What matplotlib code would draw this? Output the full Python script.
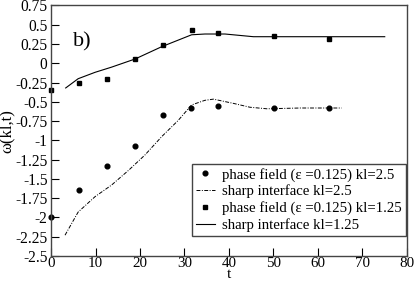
import matplotlib
matplotlib.use("Agg")
import matplotlib.pyplot as plt

# phase field points, kl=2.5 (circles)
t_pf25 = [0.0, 6.3, 12.6, 18.9, 25.1, 31.4, 37.6, 50.1, 62.5]
w_pf25 = [-1.99, -1.64, -1.33, -1.07, -0.67, -0.58, -0.55, -0.58, -0.58]

# phase field points, kl=1.25 (squares)
t_pf125 = [0.0, 6.3, 12.6, 18.9, 25.1, 31.6, 37.6, 50.1, 62.5]
w_pf125 = [-0.35, -0.25, -0.21, 0.056, 0.24, 0.43, 0.39, 0.36, 0.317]

# sharp interface curve, kl=2.5
t_si25 = [3.15, 6.1, 9.9, 13.6, 17.4, 21.1, 24.9, 28.6, 31.6, 34.6, 36.5,
          41.0, 44.7, 48.5, 56.0, 65.3]
w_si25 = [-2.23, -1.93, -1.73, -1.58, -1.39, -1.19, -0.95, -0.74, -0.54,
          -0.48, -0.465, -0.52, -0.57, -0.59, -0.58, -0.58]

# sharp interface curve, kl=1.25
t_si125 = [3.3, 6.1, 9.9, 13.6, 18.9, 24.9, 31.6, 34.6, 39.1, 45.5, 60.0, 75.0]
w_si125 = [-0.32, -0.20, -0.117, -0.05, 0.056, 0.216, 0.37, 0.38, 0.38,
           0.345, 0.345, 0.345]

x_ticks = [0, 10, 20, 30, 40, 50, 60, 70, 80]
y_ticks = [0.75, 0.5, 0.25, 0, -0.25, -0.5, -0.75, -1, -1.25, -1.5, -1.75,
           -2, -2.25, -2.5]

plt.rcParams["font.family"] = ["Liberation Serif", "DejaVu Serif"]
plt.rcParams["font.size"] = 11

fig = plt.figure(figsize=(4.15, 2.83), dpi=100)
ax = fig.add_axes([0.1229, 0.0954, 0.8578, 0.8852])

ax.plot(t_pf25, w_pf25, "o", color="black", ms=3.4, ls="none",
        label="phase field (\u03b5 =0.125) kl=2.5", clip_on=False)
ax.plot(t_si25, w_si25, color="black", lw=0.7, ls=(0, (4, 1.5, 1, 1.5)),
        label="sharp interface kl=2.5")
ax.plot(t_pf125, w_pf125, "s", color="black", ms=3.0, ls="none",
        label="phase field (\u03b5 =0.125) kl=1.25", clip_on=False)
ax.plot(t_si125, w_si125, color="black", lw=0.8,
        label="sharp interface kl=1.25")

ax.set_xlim(0, 80)
ax.set_ylim(-2.5, 0.75)
ax.set_xticks(x_ticks)
ax.set_yticks(y_ticks)
ax.set_yticklabels(["%g" % v for v in y_ticks])
ax.tick_params(direction="in", length=6, width=0.8, top=False, right=False)
ax.tick_params(axis="x", pad=0.5, labelsize=10.8)
ax.tick_params(axis="y", pad=2.5, labelsize=11.2)

for s in ax.spines.values():
    s.set_linewidth(1.0)
    s.set_color("#444444")

ax.set_xlabel("t", labelpad=-1, fontsize=11)
ax.set_ylabel("\u03c9(kl,t)", labelpad=0, fontsize=12)

ax.text(4.9, 0.28, "b)", fontsize=16, va="center", ha="left")

leg = ax.legend(loc="upper left", bbox_to_anchor=(0.396, 0.367),
                frameon=True, fancybox=False, framealpha=1,
                edgecolor="#444444", handlelength=1.3, handletextpad=0.5,
                labelspacing=0.2, borderpad=0.25, borderaxespad=0,
                fontsize=10.6, markerscale=1.0, numpoints=1)
leg.get_frame().set_linewidth(1.0)

fig.savefig("out.png", dpi=100)
